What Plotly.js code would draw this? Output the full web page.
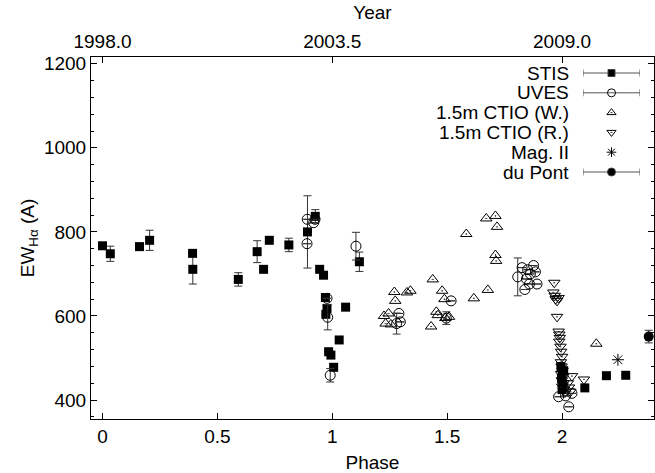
<!DOCTYPE html>
<html><head><meta charset="utf-8">
<script src="https://cdn.plot.ly/plotly-3.0.1.min.js"></script>
<style>html,body{margin:0;padding:0;background:#fff}#chart{width:655px;height:473px}</style>
</head><body><div id="chart"></div>
<script>
// ---- data ----
const seriesNames = ['STIS', 'UVES', '1.5m CTIO (W.)', '1.5m CTIO (R.)', 'Mag. II', 'du Pont'];

const stisPhase = [0.000, 0.034, 0.161, 0.205, 0.392, 0.393, 0.591, 0.673, 0.701, 0.726, 0.811,
  0.892, 0.926, 0.945, 0.962, 0.970, 0.977, 0.972, 0.984, 0.994, 1.006, 1.030, 1.058, 1.118,
  1.995, 2.000, 1.998, 2.003, 2.000, 2.007, 2.099, 2.193, 2.277];
const stisEW = [767, 748, 765, 780, 749, 711, 687, 753, 711, 780, 769,
  800, 837, 711, 697, 644, 618, 604, 515, 507, 478, 543, 621, 729,
  480, 465, 450, 438, 425, 470, 429, 458, 459];
const stisErr = [0, 18, 0, 24, 0, 35, 16, 26, 0, 0, 16,
  86, 16, 0, 0, 0, 0, 0, 0, 0, 0, 8, 0, 23,
  0, 0, 0, 0, 0, 0, 0, 0, 0];

const uvesPhase = [0.890, 0.891, 0.919, 0.925, 0.977, 0.980, 0.991, 1.103,
  1.280, 1.290, 1.296, 1.496, 1.517,
  1.807, 1.826, 1.838, 1.845, 1.850, 1.858, 1.862, 1.876, 1.884, 1.891,
  1.985, 2.005, 2.015, 2.029, 2.043];
const uvesEW = [772, 830, 822, 830, 642, 597, 459, 766,
  582, 606, 586, 595, 636,
  693, 715, 663, 688, 710, 676, 700, 720, 705, 676,
  408, 430, 410, 384, 416];
const uvesErr = [0, 0, 0, 0, 0, 30, 16, 33,
  25, 0, 0, 15, 0,
  45, 0, 0, 0, 0, 0, 0, 0, 0, 0,
  0, 0, 0, 0, 0];

const ctioWPhase = [1.225, 1.232, 1.255, 1.245, 1.270, 1.274, 1.325, 1.340, 1.430, 1.437,
  1.453, 1.459, 1.478, 1.488, 1.492, 1.508, 1.583, 1.616, 1.677, 1.670, 1.710, 1.717,
  1.710, 1.713, 2.149];
const ctioWEW = [600, 582, 580, 606, 657, 636, 656, 660, 575, 687,
  610, 602, 660, 640, 595, 598, 795, 642, 662, 832, 838, 812,
  745, 731, 534];

const ctioRPhase = [1.966, 1.962, 1.968, 1.972, 1.978, 1.985, 1.978, 1.985, 1.988, 1.990,
  1.988, 1.993, 1.996, 2.000, 1.995, 1.998, 2.002, 1.996, 2.004, 1.999, 2.006, 2.001,
  2.008, 2.012, 2.025, 2.030, 2.036, 2.043, 2.095];
const ctioREW = [679, 656, 648, 640, 636, 643, 598, 563, 556, 548,
  539, 527, 515, 503, 490, 480, 470, 462, 455, 447, 440, 432,
  425, 418, 440, 430, 420, 457, 449];

const magPhase = [2.243];
const magEW = [496];

const dupontPhase = [2.377];
const dupontEW = [551];
const dupontErr = [15];

// ---- axes definitions ----
const phaseRange = [-0.05, 2.4];
const ewRange = [355, 1216];
const phaseTicks = [0, 0.5, 1, 1.5, 2];
const phaseTickText = ['0', '0.5', '1', '1.5', '2'];
const ewTicks = [400, 600, 800, 1000, 1200];
const yearZero = 1998.0, yearsPerCycle = 5.5;
const yearTicks = [1998.0, 2003.5, 2009.0];
const yearTickText = ['1998.0', '2003.5', '2009.0'];
const toYear = p => yearZero + yearsPerCycle * p;

const FONT = {family: 'Liberation Sans, Arial, sans-serif', size: 19, color: '#000'};
const ERRC = '#333';

function errY(arr) { return {type: 'data', array: arr, visible: true, color: ERRC, thickness: 1, width: 4}; }

const traces = [
  {x: stisPhase, y: stisEW, error_y: errY(stisErr), mode: 'markers', type: 'scatter',
   marker: {symbol: 'square', size: 9, color: '#000'}},
  {x: uvesPhase, y: uvesEW, error_y: errY(uvesErr), mode: 'markers', type: 'scatter',
   marker: {symbol: 'circle-open', size: 10, color: '#000', line: {width: 1}}},
  {x: ctioWPhase, y: ctioWEW, mode: 'markers', type: 'scatter',
   marker: {symbol: 'triangle-up-open-dot', size: 10, color: '#000', line: {width: 1}}},
  {x: ctioRPhase, y: ctioREW, mode: 'markers', type: 'scatter',
   marker: {symbol: 'triangle-down-open-dot', size: 10, color: '#000', line: {width: 1}}},
  {x: magPhase, y: magEW, mode: 'markers', type: 'scatter',
   marker: {symbol: 'asterisk-open', size: 10, color: '#000', line: {width: 1}}},
  {x: dupontPhase, y: dupontEW, error_y: errY(dupontErr), mode: 'markers', type: 'scatter',
   marker: {symbol: 'circle', size: 10, color: '#000'}},
  // carries the calendar (top) axis: same STIS points in years, not drawn
  {x: stisPhase.map(toYear), y: stisEW, xaxis: 'x2', yaxis: 'y', mode: 'markers', type: 'scatter',
   marker: {opacity: 0, size: 1}, hoverinfo: 'skip'}
];

// ---- hand-made key (gnuplot style: text then sample) ----
const keySymbols = ['square', 'circle-open', 'triangle-up-open-dot', 'triangle-down-open-dot', 'asterisk-open', 'circle'];
const keySizes = [7, 8, 8, 8, 8, 8];
const keyHasBar = [true, true, false, false, false, true];
seriesNames.forEach((name, i) => {
  traces.push({
    x: [0], y: [i], xaxis: 'x3', yaxis: 'y3', mode: 'markers', type: 'scatter',
    marker: {symbol: keySymbols[i], size: keySizes[i], color: '#000', line: {width: 1}},
    error_x: keyHasBar[i] ? {type: 'data', array: [1], visible: true, color: '#555', thickness: 1, width: 3.5} : {visible: false},
    hoverinfo: 'skip'
  });
});
const W = 655, H = 473, L = 91, R = 654, T = 57, B = 419;
const px2paperX = p => (p - L) / (R - L);
const px2paperY = p => (B - p) / (B - T);
const annotations = seriesNames.map((name, i) => ({
  text: name, xref: 'paper', yref: 'y3', x: px2paperX(571), y: i, xanchor: 'right', yanchor: 'middle',
  showarrow: false, font: FONT
}));

const axisCommon = {showgrid: false, zeroline: false, showline: true, linecolor: '#000', linewidth: 1,
  ticks: 'inside', ticklen: 6, tickcolor: '#000', tickfont: FONT};

const layout = {
  width: W, height: H,
  margin: {l: L, r: W - R, t: T, b: H - B, pad: 0},
  paper_bgcolor: '#fff', plot_bgcolor: '#fff',
  showlegend: false,
  font: FONT,
  xaxis: Object.assign({}, axisCommon, {range: phaseRange, tickmode: 'array', tickvals: phaseTicks, ticktext: phaseTickText,
    title: {text: 'Phase', font: FONT, standoff: 10}}),
  xaxis2: Object.assign({}, axisCommon, {overlaying: 'x', side: 'top', anchor: 'y',
    range: phaseRange.map(toYear), tickmode: 'array', tickvals: yearTicks, ticktext: yearTickText,
    title: {text: 'Year', font: FONT, standoff: 6}}),
  yaxis: Object.assign({}, axisCommon, {range: ewRange, tickmode: 'array', tickvals: ewTicks, mirror: 'ticks',
    minor: {dtick: 40, tick0: 400, ticks: 'inside', ticklen: 3, tickcolor: '#000', showgrid: false},
    title: {text: 'EW<sub>Hα</sub> (A)', font: FONT, standoff: 4}}),
  xaxis3: {domain: [px2paperX(583), px2paperX(640)], range: [-1, 1], anchor: 'y3', visible: false, fixedrange: true},
  yaxis3: {domain: [px2paperY(73 + 19.8 * 5 + 9.9), px2paperY(73 - 9.9)], range: [5.5, -0.5], anchor: 'x3', visible: false, fixedrange: true},
  annotations: annotations
};

Plotly.newPlot('chart', traces, layout, {displayModeBar: false, staticPlot: true});
</script>
</body></html>
